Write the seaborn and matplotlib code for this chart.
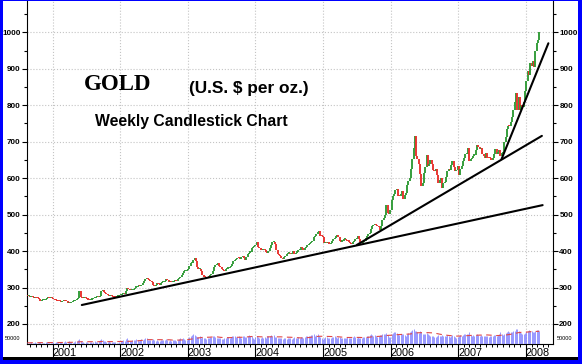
import numpy as np
import pandas as pd
import matplotlib
matplotlib.use("Agg")
import matplotlib.pyplot as plt
import matplotlib.dates as mdates
from matplotlib.patches import Rectangle
from matplotlib.ticker import FixedLocator
import seaborn as sns

# Weekly closes (US $ per oz.), one list per calendar year
first_open = 277
closes_2000 = [276, 277, 275, 276, 273, 271, 273, 272, 270, 268, 264, 265, 266, 266, 268, 270, 272, 271, 273, 272]
closes_2001 = [268, 266, 265, 264, 263, 262, 260, 262, 265, 264,
               262, 258, 258, 257, 259, 262, 263, 265, 268, 272,
               290, 273, 272, 271, 272, 270, 268, 267, 266, 267,
               268, 270, 272, 274, 276, 273, 277, 290, 292, 289,
               285, 282, 279, 277, 278, 276, 275, 274, 273, 276,
               277, 279]
closes_2002 = [280, 282, 284, 282, 290, 300, 296, 294, 292, 293,
               296, 300, 302, 304, 306, 303, 308, 312, 318, 322,
               325, 322, 320, 318, 314, 306, 304, 308, 312, 310,
               308, 312, 314, 316, 318, 322, 320, 316, 318, 314,
               316, 318, 320, 318, 322, 326, 330, 334, 340, 344,
               346, 348]
closes_2003 = [352, 358, 366, 368, 375, 382, 372, 356, 350, 352,
               345, 335, 330, 328, 326, 330, 328, 334, 338, 346,
               355, 362, 365, 368, 360, 356, 352, 348, 346, 350,
               352, 354, 356, 360, 364, 372, 376, 378, 382, 380,
               378, 384, 386, 380, 376, 384, 392, 396, 398, 408,
               410, 414]
closes_2004 = [416, 425, 410, 408, 404, 402, 405, 402, 398, 394,
               400, 408, 416, 424, 426, 420, 404, 392, 390, 386,
               380, 378, 384, 386, 392, 394, 394, 392, 396, 400,
               392, 396, 398, 402, 404, 410, 408, 404, 408, 412,
               416, 420, 422, 424, 428, 438, 440, 448, 452, 454,
               442, 440, 438]
closes_2005 = [422, 424, 422, 424, 418, 422, 428, 432, 436, 442,
               444, 438, 428, 426, 428, 432, 434, 430, 428, 426,
               422, 418, 424, 428, 434, 436, 440, 432, 426, 422,
               424, 428, 436, 440, 446, 450, 460, 468, 472, 474,
               472, 468, 466, 458, 468, 484, 492, 500, 526, 505,
               502, 513]
closes_2006 = [540, 550, 556, 568, 570, 552, 550, 557, 565, 542,
               555, 560, 582, 592, 600, 626, 652, 682, 716, 662,
               652, 640, 612, 578, 586, 615, 630, 664, 632, 640,
               650, 640, 622, 620, 625, 610, 588, 596, 600, 572,
               586, 590, 602, 620, 626, 622, 636, 646, 630, 620,
               622, 632]
closes_2007 = [610, 626, 632, 648, 655, 665, 666, 684, 646, 652,
               656, 662, 664, 678, 690, 686, 680, 684, 666, 662,
               656, 668, 656, 655, 654, 650, 656, 666, 680, 666,
               672, 676, 660, 668, 672, 700, 714, 734, 744, 742,
               754, 768, 786, 808, 834, 786, 822, 786, 802, 796,
               810, 838]
closes_2008 = [866, 894, 882, 916, 908, 922, 906, 948, 972, 978, 1002]

# Weekly volume (thousands), estimated from the bottom band
vol_2000 = [10, 7, 9, 12, 8, 10, 14, 9, 8, 11, 15, 10, 9, 7, 11, 13, 9, 8, 6, 10]
vol_2001 = [12, 9, 14, 11, 10, 16, 12, 9, 13, 18, 11, 10, 22, 14, 12, 9, 15, 20, 24, 30,
            35, 18, 14, 12, 10, 16, 11, 9, 13, 12, 10, 14, 18, 15, 12, 20, 26, 38, 30, 22,
            18, 16, 14, 20, 15, 12, 11, 17, 13, 10, 9, 14]
vol_2002 = [18, 22, 26, 20, 34, 40, 30, 24, 22, 28, 26, 30, 34, 28, 24, 32, 36, 30, 38, 44,
            40, 32, 28, 26, 30, 36, 28, 24, 26, 22, 24, 30, 28, 26, 32, 36, 30, 24, 28, 22,
            26, 30, 28, 24, 32, 36, 40, 34, 42, 38, 30, 26]
vol_2003 = [44, 52, 58, 62, 70, 66, 54, 48, 50, 56, 46, 52, 44, 40, 38, 42, 46, 50, 48, 54,
            58, 50, 46, 44, 40, 42, 38, 36, 40, 44, 48, 52, 46, 50, 56, 60, 54, 48, 52, 58,
            50, 46, 54, 60, 52, 48, 56, 62, 58, 54, 40, 36]
vol_2004 = [52, 58, 50, 46, 42, 48, 44, 50, 46, 54, 56, 60, 62, 58, 66, 52, 48, 44, 40, 46,
            42, 38, 44, 40, 36, 42, 46, 40, 38, 44, 48, 42, 46, 50, 44, 48, 52, 46, 50, 54,
            56, 60, 58, 64, 62, 68, 60, 66, 70, 56, 50, 44, 38]
vol_2005 = [46, 50, 48, 44, 42, 46, 52, 48, 54, 50, 46, 52, 48, 44, 46, 42, 40, 44, 48, 42,
            46, 44, 50, 54, 48, 46, 50, 44, 40, 46, 48, 52, 50, 56, 60, 64, 70, 66, 58, 62,
            56, 52, 60, 66, 62, 70, 74, 68, 78, 64, 52, 48]
vol_2006 = [70, 78, 82, 88, 76, 72, 66, 70, 74, 68, 64, 60, 72, 80, 86, 92, 98, 104, 96, 90,
            84, 80, 92, 86, 74, 68, 72, 78, 70, 62, 58, 54, 56, 52, 50, 60, 66, 58, 54, 62,
            58, 56, 60, 64, 58, 52, 56, 62, 54, 50, 46, 48]
vol_2007 = [60, 64, 58, 66, 70, 74, 68, 72, 86, 64, 58, 62, 60, 66, 70, 64, 60, 62, 58, 56,
            60, 54, 58, 52, 56, 60, 58, 62, 64, 60, 62, 70, 88, 72, 66, 74, 80, 86, 90, 84,
            88, 82, 92, 96, 104, 110, 92, 86, 78, 74, 70, 76]
vol_2008 = [86, 92, 98, 90, 94, 88, 84, 96, 102, 98, 92]

# Support lines drawn on the chart: start/end date and price
trend_start_dates = ["2001-06-08", "2005-07-03", "2007-08-23"]
trend_start_prices = [252, 417, 652]
trend_end_dates = ["2008-04-01", "2008-03-28", "2008-05-02"]
trend_end_prices = [526, 716, 970]

price_ticks = [200, 300, 400, 500, 600, 700, 800, 900, 1000]


def px(x, y):
    # pixel position -> figure fraction
    return x / 582, 1 - y / 364


def main():
    sns.set_style("white")
    plt.rcParams["font.family"] = ["Liberation Sans", "DejaVu Sans"]
    plt.rcParams["text.color"] = "black"
    plt.rcParams["xtick.color"] = "black"
    plt.rcParams["ytick.color"] = "black"

    closes = np.array(closes_2000 + closes_2001 + closes_2002 + closes_2003 + closes_2004
                      + closes_2005 + closes_2006 + closes_2007 + closes_2008, dtype=float)
    volume = np.array(vol_2000 + vol_2001 + vol_2002 + vol_2003 + vol_2004
                      + vol_2005 + vol_2006 + vol_2007 + vol_2008, dtype=float)
    opens = np.r_[first_open, closes[:-1]]
    dates = pd.date_range("2000-08-18", periods=len(closes), freq="7D")

    fig = plt.figure(figsize=(5.82, 3.64), dpi=100, facecolor="#0000ff")
    # white panel + black strip inside the blue frame
    fig.patches.append(Rectangle((3 / 582, 7 / 364), 575 / 582, 356 / 364,
                                 transform=fig.transFigure, facecolor="white", edgecolor="none", zorder=-5))
    fig.patches.append(Rectangle((3 / 582, 4 / 364), 575 / 582, 3 / 364,
                                 transform=fig.transFigure, facecolor="black", edgecolor="none", zorder=-5))

    ax = fig.add_axes([27 / 582, 20 / 364, 526 / 582, 343 / 364])
    ax.set_facecolor("white")

    # candles
    up = closes >= opens
    colors = np.where(up, "#2f9a35", "#e8302b")
    lo = np.minimum(opens, closes)
    hi = np.maximum(np.maximum(opens, closes), lo + 3)
    ax.vlines(dates, lo, hi, colors=colors, linewidth=1.35, zorder=3)

    # trend lines
    for d0, p0, d1, p1 in zip(trend_start_dates, trend_start_prices, trend_end_dates, trend_end_prices):
        sns.lineplot(x=pd.to_datetime([d0, d1]), y=[p0, p1], ax=ax, color="black", linewidth=1.5, zorder=4)

    ax.set_xlim(pd.Timestamp("2000-08-16"), pd.Timestamp("2008-05-27"))
    ax.set_ylim(145, 1086)

    # volume band at the bottom
    ax_v = ax.twinx()
    ax_v.vlines(dates, 0, volume, colors="#7c7cff", linewidth=0.55)
    vol_ma = pd.Series(volume).rolling(20, min_periods=1).mean()
    sns.lineplot(x=dates, y=vol_ma.values, ax=ax_v, color="#e04848", linewidth=0.8, linestyle=(0, (5, 4)))
    ax_v.set_ylim(0, 2440)
    ax_v.set_axis_off()

    # axes styling
    ax.set_yticks(price_ticks)
    ax.yaxis.set_minor_locator(FixedLocator([p + 50 for p in price_ticks]))
    ax.xaxis.set_major_locator(mdates.YearLocator())
    ax.xaxis.set_major_formatter(mdates.DateFormatter("%Y"))
    ax.xaxis.set_minor_locator(mdates.MonthLocator())
    ax.grid(True, which="major", color="#c4c4c4", linestyle=":", linewidth=0.8)
    ax.set_axisbelow(True)
    for s in ["left", "right", "bottom"]:
        ax.spines[s].set_visible(True)
        ax.spines[s].set_color("black")
        ax.spines[s].set_linewidth(0.8)
    ax.spines["top"].set_visible(False)

    ax.tick_params(axis="y", which="both", left=True, right=True, labelleft=True, labelright=True,
                   direction="out", width=0.8, labelsize=5.8, pad=1)
    ax.tick_params(axis="y", which="major", length=3.5)
    ax.tick_params(axis="y", which="minor", length=2)
    ax.tick_params(axis="x", which="major", bottom=True, direction="out", length=9, width=0.8,
                   labelsize=7.8, pad=-6)
    ax.tick_params(axis="x", which="minor", bottom=True, direction="out", length=2.5, width=0.7)
    for t in ax.yaxis.get_major_ticks():
        t.label1.set_fontweight("bold")
        t.label2.set_fontweight("bold")
    plt.setp(ax.get_xticklabels(), ha="left")
    ax.set_xlabel("")
    ax.set_ylabel("")

    # titles
    fig.text(*px(118, 84), "GOLD", ha="center", va="center",
             family="Liberation Serif", fontweight="bold", fontsize=16.5)
    fig.text(*px(249, 89), "(U.S. $ per oz.)", ha="center", va="center",
             fontweight="bold", fontsize=12.4)
    fig.text(*px(191, 122), "Weekly Candlestick Chart", ha="center", va="center",
             fontweight="bold", fontsize=11.3)

    # volume scale labels
    fig.text(*px(5, 338), "50000", ha="left", va="center", fontsize=4)
    fig.text(*px(557, 338), "50000", ha="left", va="center", fontsize=4)

    fig.savefig("out.png", dpi=100, facecolor=fig.get_facecolor())


if __name__ == "__main__":
    main()
